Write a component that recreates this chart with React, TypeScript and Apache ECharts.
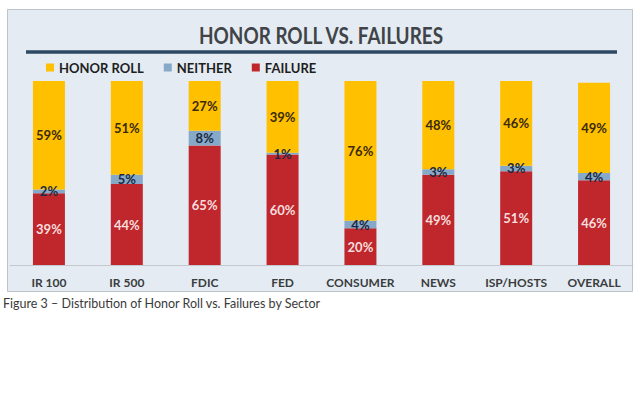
import React, { useEffect, useRef } from "react";
import * as echarts from "echarts";

const categories = ["IR 100", "IR 500", "FDIC", "FED", "CONSUMER", "NEWS", "ISP/HOSTS", "OVERALL"];
const failure = [39, 44, 65, 60, 20, 49, 51, 46];
const neither = [2, 5, 8, 1, 4, 3, 3, 4];
const honorRoll = [59, 51, 27, 39, 76, 48, 46, 49];

const titleText = "HONOR ROLL VS. FAILURES";
const captionText = "Figure 3 \u2013 Distribution of Honor Roll vs. Failures by Sector";

const FONT = "Lato, 'Open Sans', sans-serif";

export default function App() {
  const ref = useRef<HTMLDivElement>(null);

  useEffect(() => {
    if (!ref.current) return;
    const chart = echarts.init(ref.current, null, { renderer: "svg" });
    const labelBase = {
      show: true,
      position: "inside" as const,
      formatter: "{c}%",
      fontFamily: FONT,
      fontWeight: "bold" as const,
      fontSize: 13,
    };
    chart.setOption({
      animation: false,
      backgroundColor: "#ffffff",
      graphic: [
        {
          type: "rect",
          z: -10,
          silent: true,
          shape: { x: 7.5, y: 9.5, width: 625, height: 282 },
          style: { fill: "#e4ebf2", stroke: "#bcc3ca", lineWidth: 1 },
        },
        {
          type: "text",
          x: 321,
          y: 35,
          scaleX: 0.86,
          style: {
            text: titleText,
            fontFamily: FONT,
            fontSize: 22,
            fontWeight: "bold",
            fill: "#404448",
            align: "center",
            verticalAlign: "middle",
          },
        },
        {
          type: "line",
          silent: true,
          shape: { x1: 26, y1: 52, x2: 617, y2: 52 },
          style: { stroke: "#2e4a62", lineWidth: 3.5 },
        },
        {
          type: "text",
          x: 3,
          y: 303,
          style: {
            text: captionText,
            fontFamily: FONT,
            fontSize: 12.5,
            fill: "#3a3a3a",
            align: "left",
            verticalAlign: "middle",
          },
        },
      ],
      legend: {
        data: ["HONOR ROLL", "NEITHER", "FAILURE"],
        left: 46,
        top: 61,
        padding: 0,
        itemWidth: 8,
        itemHeight: 8,
        itemGap: 20,
        icon: "rect",
        textStyle: {
          fontFamily: FONT,
          fontWeight: "bold",
          fontSize: 13,
          color: "#1e1e1e",
        },
      },
      grid: { left: 10, right: 7, top: 81, bottom: 128 },
      xAxis: {
        type: "category",
        data: categories,
        axisLine: { lineStyle: { color: "#c3c9cf", width: 1 } },
        axisTick: { show: false },
        axisLabel: {
          interval: 0,
          fontFamily: FONT,
          fontWeight: "bold",
          fontSize: 12,
          color: "#3a3d40",
          margin: 11,
        },
      },
      yAxis: {
        type: "value",
        min: 0,
        max: 100,
        show: false,
        splitLine: { show: false },
      },
      series: [
        {
          name: "FAILURE",
          type: "bar",
          stack: "total",
          data: failure,
          barWidth: 32,
          itemStyle: { color: "#c0272d" },
          label: { ...labelBase, color: "#f6dede" },
        },
        {
          name: "NEITHER",
          type: "bar",
          stack: "total",
          data: neither,
          barWidth: 32,
          itemStyle: { color: "#86a9c9" },
          label: { ...labelBase, color: "#1c2940" },
        },
        {
          name: "HONOR ROLL",
          type: "bar",
          stack: "total",
          data: honorRoll,
          barWidth: 32,
          itemStyle: { color: "#ffc000" },
          label: { ...labelBase, color: "#3a2a0a" },
        },
      ],
    });
    return () => chart.dispose();
  }, []);

  return (
    <div
      ref={ref}
      style={{ position: "absolute", left: 0, top: 0, width: 640, height: 393, background: "#fff" }}
    />
  );
}
